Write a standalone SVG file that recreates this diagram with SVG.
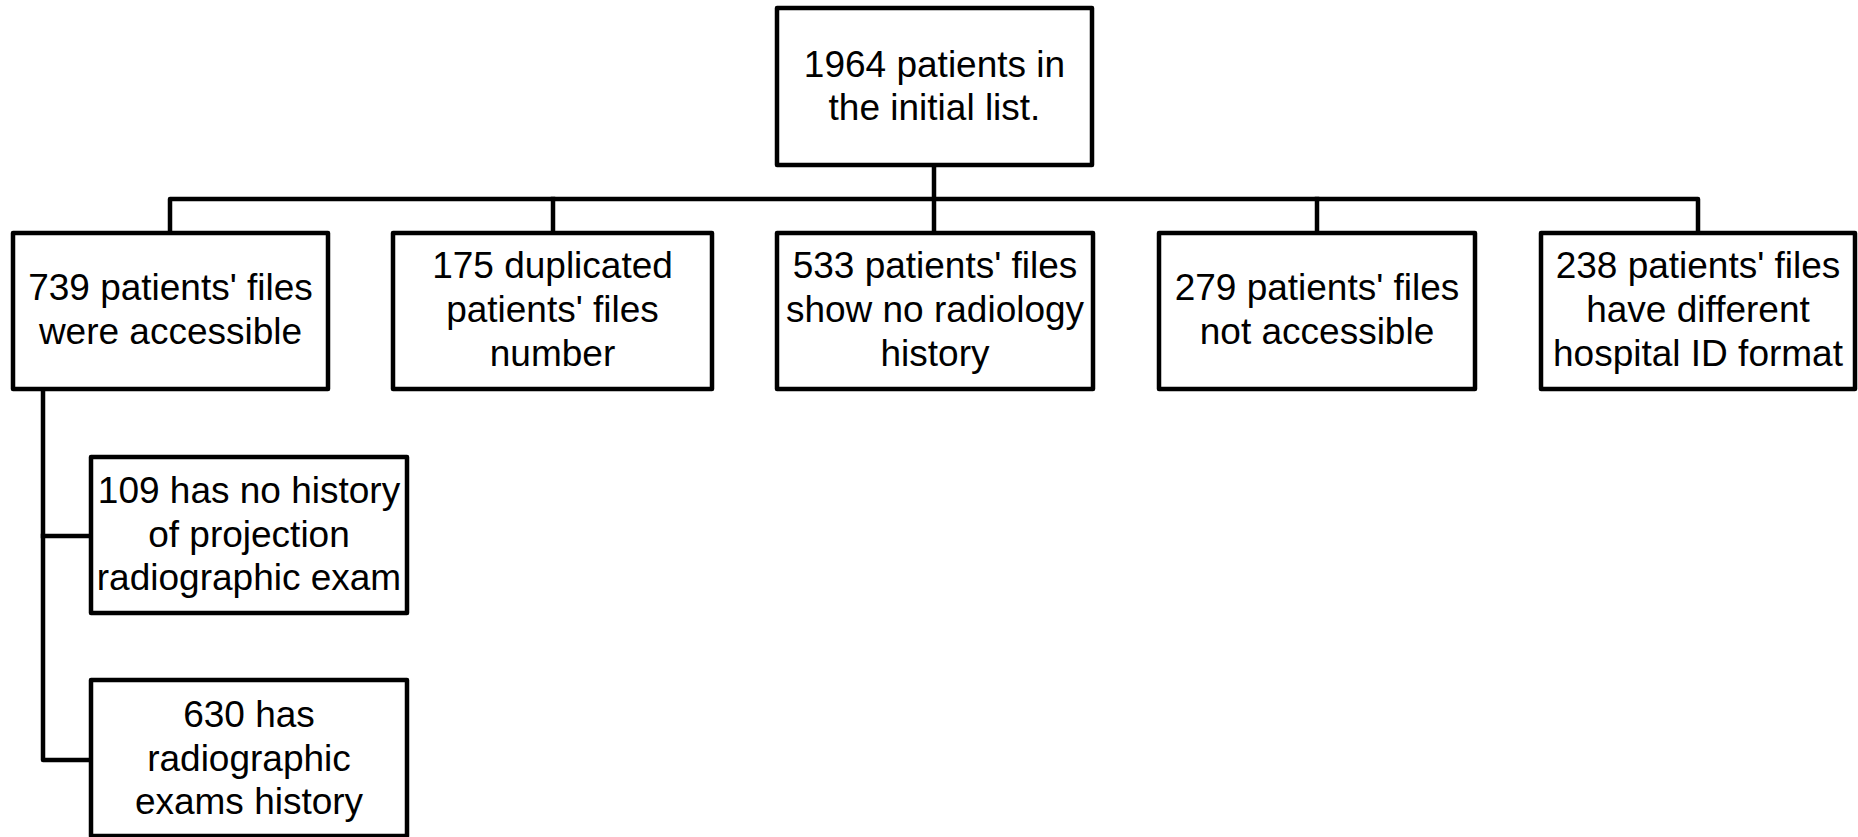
<svg xmlns="http://www.w3.org/2000/svg" width="1858" height="837" viewBox="0 0 1858 837">
<style>
.box{fill:#fff;stroke:#000;stroke-width:4.5;stroke-linejoin:round}
.con{fill:none;stroke:#000;stroke-width:4.5;stroke-linejoin:round;stroke-linecap:square}
text{font-family:"Liberation Sans",Arial,sans-serif;font-size:37px;fill:#000;text-anchor:middle}
</style>
<rect width="1858" height="837" fill="#fff"/>
<g id="connectors">
<path class="con" d="M934,165 V233"/>
<path class="con" d="M170,233 V199 H1698 V233"/>
<path class="con" d="M553,199 V233"/>
<path class="con" d="M1317,199 V233"/>
<path class="con" d="M43,389 V760 H91"/>
<path class="con" d="M43,536 H91"/>
</g>
<g id="n0"><rect class="box" x="777" y="8" width="315" height="157"/>
<text x="934.5" y="77">1964 patients in</text><text x="934.5" y="120">the initial list.</text></g>
<g id="n1"><rect class="box" x="13" y="233" width="315" height="156"/>
<text x="170.5" y="300">739 patients' files</text><text x="170.5" y="344">were accessible</text></g>
<g id="n2"><rect class="box" x="393" y="233" width="319" height="156"/>
<text x="552.5" y="278">175 duplicated</text><text x="552.5" y="322">patients' files</text><text x="552.5" y="366">number</text></g>
<g id="n3"><rect class="box" x="777" y="233" width="316" height="156"/>
<text x="935" y="278">533 patients' files</text><text x="935" y="322">show no radiology</text><text x="935" y="366">history</text></g>
<g id="n4"><rect class="box" x="1159" y="233" width="316" height="156"/>
<text x="1317" y="300">279 patients' files</text><text x="1317" y="344">not accessible</text></g>
<g id="n5"><rect class="box" x="1541" y="233" width="314" height="156"/>
<text x="1698" y="278">238 patients' files</text><text x="1698" y="322">have different</text><text x="1698" y="366">hospital ID format</text></g>
<g id="n6"><rect class="box" x="91" y="457" width="316" height="156"/>
<text x="249" y="503">109 has no history</text><text x="249" y="547">of projection</text><text x="249" y="590">radiographic exam</text></g>
<g id="n7"><rect class="box" x="91" y="680" width="316" height="156"/>
<text x="249" y="727">630 has</text><text x="249" y="771">radiographic</text><text x="249" y="814">exams history</text></g>
</svg>
